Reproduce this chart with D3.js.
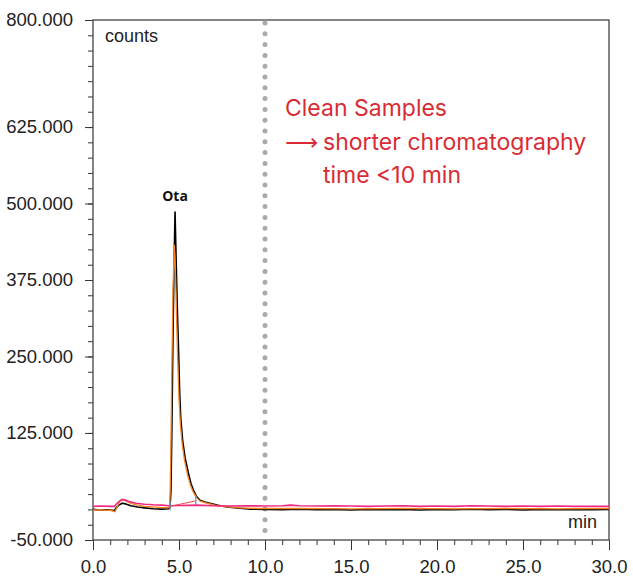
<!DOCTYPE html>
<html>
<head>
<meta charset="utf-8">
<script src="https://cdn.jsdelivr.net/npm/d3@7"></script>
<style>
  html, body { margin: 0; padding: 0; background: #fff; }
  svg { display: block; }
  .tick text { font-family: "Liberation Sans", Arial, sans-serif; font-size: 18.5px; fill: #222; }
</style>
</head>
<body>
<div id="chart"></div>
<script>
// axis ticks
const xMajorTicks = [0, 5, 10, 15, 20, 25, 30];
const yMajorTicks = [-50, 125, 250, 375, 500, 625, 800];

// traces: [minutes, counts]
const blackTrace = [
  [0, 0], [0.4, -1], [0.8, -0.5], [1.1, -1.5], [1.25, -2], [1.35, 3], [1.5, 7], [1.7, 10], [1.9, 9],
  [2.2, 6], [2.6, 4], [3.0, 2.5], [3.5, 1], [4.0, 0.5], [4.4, 1], [4.48, 4], [4.53, 30],
  [4.58, 120], [4.64, 260], [4.7, 380], [4.77, 486], [4.84, 400], [4.91, 320], [4.98, 255],
  [5.04, 190], [5.1, 150], [5.21, 113], [5.35, 85], [5.54, 60], [5.7, 42], [5.83, 32],
  [6.0, 22], [6.22, 15], [6.5, 12], [6.8, 10], [7.2, 7], [7.8, 4], [8.5, 2], [9.2, 0.5],
  [10, 0], [11, -0.5], [12, 0.5], [13, -0.5], [14, 0], [15, -1], [16, 0], [17, -0.5],
  [18, 0], [19, -1], [20, 0], [21, -0.5], [22, 0.5], [23, -0.5], [24, 0], [25, -1],
  [26, 0], [27, -0.5], [28, 0], [29, -0.5], [30, 0]
];
const orangeTrace = [
  [0, -1], [0.5, -1], [1.0, -1.5], [1.2, -3], [1.28, -4], [1.4, 4], [1.55, 12], [1.7, 17],
  [1.9, 14], [2.2, 10], [2.6, 7], [3.0, 5], [3.5, 4], [4.0, 3], [4.42, 3], [4.47, 10],
  [4.52, 80], [4.58, 220], [4.65, 360], [4.73, 432], [4.8, 380], [4.87, 300], [4.94, 230],
  [5.0, 180], [5.08, 140], [5.18, 108], [5.32, 80], [5.5, 56], [5.66, 40], [5.8, 30],
  [6.0, 20], [6.2, 14], [6.5, 11], [6.8, 9], [7.2, 6], [7.8, 4], [8.5, 2.5], [9.5, 1.5],
  [12, 1.5], [15, 1], [18, 1.5], [21, 1], [24, 1.5], [27, 1], [30, 1.5]
];
const pinkTrace = [
  [0, 5], [0.5, 5.5], [1.0, 5], [1.25, 5], [1.4, 10], [1.6, 15], [1.8, 16], [2.1, 13],
  [2.5, 10], [3.0, 8.5], [3.5, 7.5], [4.0, 7], [4.4, 6], [5.0, 6.5], [6.0, 7], [7.0, 6],
  [8.0, 5.5], [9.0, 6], [10, 5.5], [11, 6], [11.5, 7], [12, 6], [13, 5.5], [14, 6],
  [15, 5.5], [16, 5], [17, 5.5], [18, 6], [19, 5], [20, 5.5], [21, 5], [22, 6], [23, 5.5],
  [24, 5], [25, 5.5], [26, 5], [27, 5.5], [28, 5], [29, 5], [30, 5]
];
// integration baseline of the Ota peak
const otaBaseline = [[4.48, 5], [5.98, 14]];

const width = 633, height = 576;
const margin = { top: 20, right: 24, bottom: 36, left: 93 };
const plotW = width - margin.left - margin.right;
const plotH = height - margin.top - margin.bottom;

const x = d3.scaleLinear().domain([0, 30]).range([0, plotW]);
const y = d3.scaleLinear().domain([-50, 800]).range([plotH, 0]);

// plain hyphen for negatives, like the instrument software
const fmtY = d => d3.format('.3f')(d).replace('\u2212', '-');

const svg = d3.select('#chart').append('svg')
  .attr('width', width)
  .attr('height', height);

svg.append('defs').append('clipPath').attr('id', 'plot-clip')
  .append('rect').attr('width', plotW).attr('height', plotH);

const g = svg.append('g').attr('transform', `translate(${margin.left},${margin.top})`);

// minor ticks first so major ones sit on top
g.append('g')
  .attr('transform', `translate(0,${plotH})`)
  .call(d3.axisBottom(x).tickValues(d3.range(0, 31, 1)).tickSize(5).tickFormat(''))
  .call(a => a.select('.domain').remove())
  .call(a => a.selectAll('line').attr('stroke', '#333'));

g.append('g')
  .call(d3.axisLeft(y).tickValues(d3.range(-50, 801, 25)).tickSize(5).tickFormat(''))
  .call(a => a.select('.domain').remove())
  .call(a => a.selectAll('line').attr('stroke', '#333'));

g.append('g')
  .attr('transform', `translate(0,${plotH})`)
  .call(d3.axisBottom(x).tickValues(xMajorTicks).tickSize(10).tickPadding(10).tickFormat(d3.format('.1f')))
  .call(a => a.select('.domain').remove())
  .call(a => a.selectAll('line').attr('stroke', '#333'));

g.append('g')
  .call(d3.axisLeft(y).tickValues(yMajorTicks).tickSize(8).tickPadding(12).tickFormat(fmtY))
  .call(a => a.select('.domain').remove())
  .call(a => a.selectAll('line').attr('stroke', '#333'));

// frame
g.append('rect')
  .attr('width', plotW)
  .attr('height', plotH)
  .attr('fill', 'none')
  .attr('stroke', '#444')
  .attr('stroke-width', 1.3);

// dotted marker at 10 min
g.append('line')
  .attr('x1', x(10)).attr('x2', x(10))
  .attr('y1', 3).attr('y2', plotH)
  .attr('stroke', '#aaa')
  .attr('stroke-width', 5)
  .attr('stroke-linecap', 'round')
  .attr('stroke-dasharray', '0 10.8');

const line = d3.line().x(d => x(d[0])).y(d => y(d[1]));
const traces = g.append('g').attr('clip-path', 'url(#plot-clip)');

traces.append('path').datum(blackTrace)
  .attr('d', line).attr('fill', 'none')
  .attr('stroke', '#000').attr('stroke-width', 1.6).attr('stroke-linejoin', 'round');

traces.append('path').datum(orangeTrace)
  .attr('d', line).attr('fill', 'none')
  .attr('stroke', '#f7841f').attr('stroke-width', 1.3).attr('stroke-linejoin', 'round');

traces.append('path').datum(pinkTrace)
  .attr('d', line).attr('fill', 'none')
  .attr('stroke', '#f0287f').attr('stroke-width', 1.6).attr('stroke-linejoin', 'round');

traces.append('path').datum(otaBaseline)
  .attr('d', line).attr('fill', 'none')
  .attr('stroke', '#f04a4a').attr('stroke-width', 1);

traces.selectAll('.int-mark').data(otaBaseline).join('line')
  .attr('class', 'int-mark')
  .attr('x1', d => x(d[0])).attr('x2', d => x(d[0]))
  .attr('y1', d => y(d[1]) - 5).attr('y2', d => y(d[1]) + 4)
  .attr('stroke', '#6b8fc4').attr('stroke-width', 1.3);

// peak label
g.append('text')
  .attr('x', x(4.77))
  .attr('y', 181)
  .attr('text-anchor', 'middle')
  .attr('font-family', '"Open Sans", "Noto Sans", sans-serif')
  .attr('font-weight', 700)
  .attr('font-size', 14)
  .attr('fill', '#111')
  .text('Ota');

// unit labels
g.append('text')
  .attr('x', 12).attr('y', 22)
  .attr('font-family', '"Liberation Sans", Arial, sans-serif')
  .attr('font-size', 18).attr('fill', '#222')
  .text('counts');

g.append('text')
  .attr('x', plotW - 12).attr('y', plotH - 12)
  .attr('text-anchor', 'end')
  .attr('font-family', '"Liberation Sans", Arial, sans-serif')
  .attr('font-size', 18).attr('fill', '#222')
  .text('min');

// annotation
const note = g.append('g')
  .attr('font-family', 'Inter, "Noto Sans", sans-serif')
  .attr('font-size', 23)
  .attr('fill', '#d92b33');

note.append('text').attr('x', 192).attr('y', 96).text('Clean Samples');
note.append('text').attr('x', 192).attr('y', 130)
  .attr('font-family', '"DejaVu Sans", sans-serif')
  .text('\u27F6');
note.append('text').attr('x', 230).attr('y', 130).text('shorter chromatography');
note.append('text').attr('x', 230).attr('y', 163).text('time <10 min');
</script>
</body>
</html>
